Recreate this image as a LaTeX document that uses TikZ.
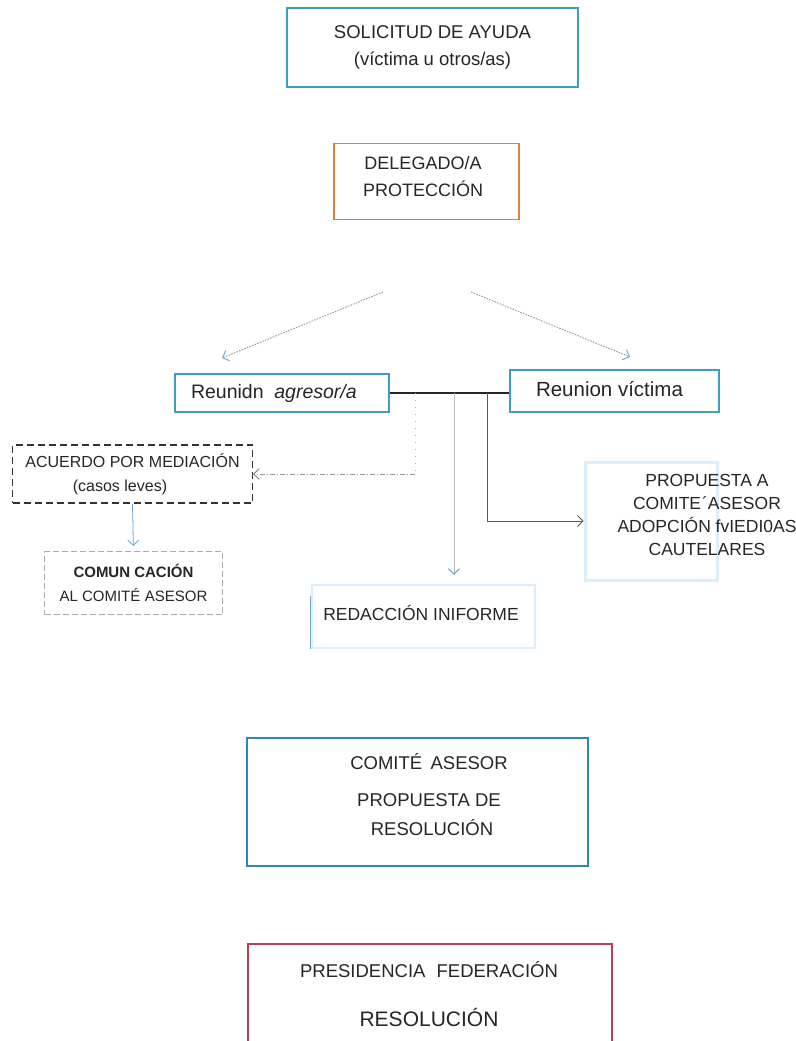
\documentclass[tikz,border=0pt]{standalone}
\usepackage{fontspec}
\setmainfont{Liberation Sans}
\usetikzlibrary{arrows.meta}
\definecolor{txt}{HTML}{262626}
\definecolor{tealb}{HTML}{3D9DC4}
\definecolor{midb}{HTML}{2F86B3}
\definecolor{orng}{HTML}{E0803C}
\definecolor{crim}{HTML}{C33A56}
\definecolor{faintb}{HTML}{DCEEF9}
\definecolor{tipb}{HTML}{6AA8D0}
\begin{document}
\begin{tikzpicture}[x=1pt,y=-1pt,
  box/.style={draw, line width=1.4pt, inner sep=0pt, align=center, text=txt},
  lbl/.style={text=txt, align=center, inner sep=0pt},
  arrowv/.style={-{Straight Barb[length=5.5pt,width=11pt,color=#1]}},
  dotconn/.style={draw=gray!80, line width=0.9pt, dash pattern=on 1.6pt off 1.2pt},
  thinconn/.style={draw=gray!70!black, line width=0.8pt}
]
\useasboundingbox (0,0) rectangle (795,1041);
\fill[white] (0,0) rectangle (795,1041);

% boxes
\node[box, draw=tealb, minimum width=291pt, minimum height=79pt,
      font=\fontsize{18.5}{27}\selectfont] (sol) at (432.5,47.5)
      {SOLICITUD DE AYUDA\\(víctima u otros/as)};
\node[box, draw=orng, line width=1.6pt, minimum width=185pt, minimum height=76pt] (del) at (426.5,181.5) {};
\node[lbl, font=\fontsize{18}{27}\selectfont] (deltext) at (423,177)
      {DELEGADO/A\\PROTECCIÓN};
\node[box, draw=tealb, minimum width=214pt, minimum height=38pt,
      text width=182pt, align=left, inner xsep=16pt,
      font=\fontsize{19.5}{24}\selectfont] (agr) at (282,393)
      {Reunidn\hspace{0.55em}\textit{agresor/a}};
\node[box, draw=tealb, minimum width=209pt, minimum height=42pt] (vic) at (614.5,391) {};
\node[lbl, font=\fontsize{20.5}{24}\selectfont] (victext) at (609.5,389) {Reunion víctima};
\node[box, draw=black!80, line width=1.1pt, dash pattern=on 7pt off 4pt,
      minimum width=240pt, minimum height=58pt,
      font=\fontsize{16}{24}\selectfont] (acu) at (132.5,474)
      {ACUERDO POR MEDIACIÓN\\\hspace*{-25pt}(casos leves)};
\node[box, draw=gray!65, line width=0.9pt, dash pattern=on 6pt off 3pt,
      minimum width=178pt, minimum height=63pt,
      font=\fontsize{15}{24}\selectfont] (com) at (133.5,583)
      {\textbf{COMUN CACIÓN}\\AL COMITÉ\hspace{0.3em}ASESOR};
\node[box, draw=faintb, line width=2.5pt, minimum width=223pt, minimum height=63pt] (red) at (423.5,616.5) {};
\node[lbl, font=\fontsize{17.5}{24}\selectfont] (redtext) at (421,613) {REDACCIÓN INIFORME};
\draw[draw=midb!70, line width=1.2pt] (red.north west) ++(0,12) -- (red.south west);
\node[box, draw=faintb, line width=3pt, minimum width=132pt, minimum height=118pt] (pro) at (651,521) {};
\node[lbl, font=\fontsize{17.5}{23.3}\selectfont] (protext) at (707,515)
      {PROPUESTA A\\COMITE\kern1pt´ASESOR\\ADOPCIÓN fvIEDI0AS\\CAUTELARES};
\node[box, draw=midb, minimum width=341pt, minimum height=128pt] (cas) at (417.5,802) {};
\node[lbl, font=\fontsize{18.5}{29}\selectfont] (castext) at (429,795)
      {COMITÉ\hspace{0.45em}ASESOR\\[8pt]PROPUESTA DE\\\hspace*{6pt}RESOLUCIÓN};
\node[box, draw=crim, minimum width=364pt, minimum height=101pt] (pre) at (430,994.5) {};
\node[lbl, font=\fontsize{18.5}{49}\selectfont] (pretext) at (429,994.5)
      {PRESIDENCIA\hspace{0.6em}FEDERACIÓN\\{\fontsize{21}{49}\selectfont RESOLUCIÓN}};

% arrows from delegado
\coordinate (dl) at (383,292);
\coordinate (dr) at (471,292);
\coordinate (al) at (222,358);
\coordinate (ar) at (630,357);
\draw[dotconn, arrowv=tipb] (dl) -- (al);
\draw[dotconn, arrowv=tipb] (dr) -- (ar);

% junction between meetings
\draw[black!85, line width=1.2pt] (agr.east) -- (agr.east -| vic.west);
\coordinate (b1) at (415,393);
\coordinate (b2) at (454,393);
\coordinate (b3) at (487,393);
\coordinate (c1) at (415,474);
\draw[draw=gray!60, line width=0.9pt, dash pattern=on 1pt off 6pt] (b1) -- (c1);
\draw[draw=gray!80, line width=0.9pt, dash pattern=on 5pt off 2pt on 1pt off 2pt, arrowv=gray] (c1) -- (acu.east);
\draw[draw=gray!55, line width=0.9pt, arrowv=tipb, shorten >=9pt] (b2) -- (b2 |- red.north);
\draw[thinconn, arrowv=gray!70!black] (b3) |- (pro.west);
\draw[draw=tipb, line width=0.8pt, arrowv=tipb, shorten >=5pt] (acu.south) -- (com.north);
\end{tikzpicture}
\end{document}
